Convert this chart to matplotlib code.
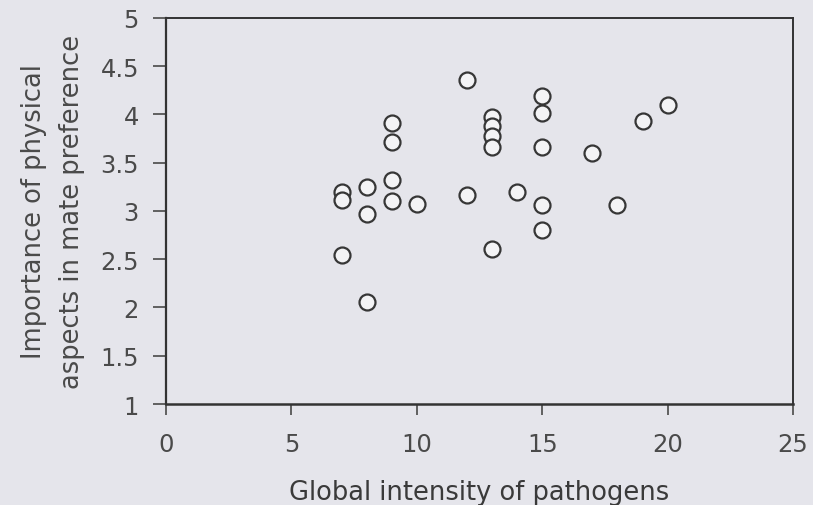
#!/usr/bin/env python3
"""Scatter of pathogen intensity vs importance of physical aspects in mate preference."""

import matplotlib

matplotlib.use("Agg")
import matplotlib.pyplot as plt

# Global intensity of pathogens (x) and importance score (y), one entry per country
pathogens = [7, 7, 7,
             8, 8, 8,
             9, 9, 9, 9,
             10,
             12, 12,
             13, 13, 13, 13, 13,
             14,
             15, 15, 15, 15, 15,
             17, 18, 19, 20]
importance = [3.20, 3.11, 2.54,
              3.25, 2.97, 2.06,
              3.91, 3.72, 3.32, 3.10,
              3.07,
              4.36, 3.17,
              3.97, 3.88, 3.78, 3.66, 2.61,
              3.20,
              4.19, 4.02, 3.66, 3.06, 2.80,
              3.60, 3.06, 3.93, 4.10]

x_ticks = [0, 5, 10, 15, 20, 25]
y_ticks = [1, 1.5, 2, 2.5, 3, 3.5, 4, 4.5, 5]

BG = "#e5e5eb"
INK = "#4a4a4a"

plt.rcParams["font.family"] = ["DejaVu Sans"]

fig = plt.figure(figsize=(8.13, 5.06), dpi=100, facecolor=BG)
ax = fig.add_axes([0.2042, 0.1996, 0.9754 - 0.2042, 0.9625 - 0.1996])
ax.set_facecolor(BG)

ax.plot(pathogens, importance, linestyle="none", marker="o", markersize=11.5,
        markerfacecolor="#f3f3f5", markeredgecolor="#363636", markeredgewidth=1.6,
        clip_on=False)

ax.set_xlim(0, 25)
ax.set_ylim(1, 5)
ax.set_xticks(x_ticks)
ax.set_yticks(y_ticks)
ax.set_xticklabels([str(v) for v in x_ticks])
ax.set_yticklabels([f"{v:g}" for v in y_ticks])

for side, lw in (("left", 1.6), ("bottom", 1.8), ("top", 1.4), ("right", 1.4)):
    ax.spines[side].set_linewidth(lw)
    ax.spines[side].set_color("#333333")

ax.tick_params(axis="both", direction="out", width=1.3, color="#555555",
               labelsize=17.5, labelcolor=INK)
ax.tick_params(axis="y", length=9.5, pad=10)
ax.tick_params(axis="x", length=8, pad=12)

ax.set_xlabel("Global intensity of pathogens", fontsize=18.5, color="#3a3a3a", labelpad=17)
ax.set_ylabel("Importance of physical\naspects in mate preference", fontsize=18.5,
              color=INK, labelpad=11, linespacing=1.6)

fig.savefig("out.png", dpi=100, facecolor=BG)
